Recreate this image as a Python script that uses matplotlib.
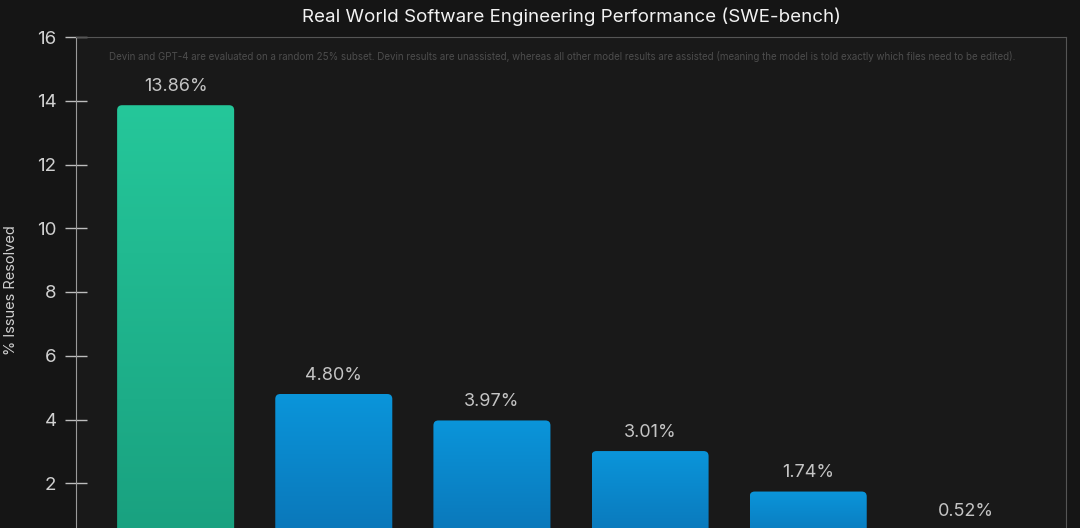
import numpy as np
import matplotlib
matplotlib.use('Agg')
import matplotlib.pyplot as plt
from matplotlib.patches import FancyBboxPatch
from matplotlib.colors import LinearSegmentedColormap

# Data (x labels are cut off at the bottom of the picture)
models = ['Devin', 'Claude 2', 'SWE-Llama 13b', 'SWE-Llama 7b', 'GPT-4', 'ChatGPT-3.5']
resolved = [13.86, 4.80, 3.97, 3.01, 1.74, 0.52]
yticks = [2, 4, 6, 8, 10, 12, 14, 16]

title = 'Real World Software Engineering Performance (SWE-bench)'
note = ('Devin and GPT-4 are evaluated on a random 25% subset. Devin results are unassisted, '
        'whereas all other model results are assisted (meaning the model is told exactly which '
        'files need to be edited).')

plt.rcParams['font.family'] = ['Inter', 'DejaVu Sans']

BG = '#151515'
fig = plt.figure(figsize=(10.8, 5.28), dpi=100, facecolor=BG)
# axes bottom sits below the figure edge, like in the cropped screenshot
ax = fig.add_axes([76/1080, -19/528, 990/1080, 510/528])
ax.set_facecolor('#191919')

x = np.arange(len(models))
bars = ax.bar(x, resolved, width=0.74, color='none', edgecolor='none')

green = LinearSegmentedColormap.from_list('g', ['#19a07f', '#25c79a'])
blue = LinearSegmentedColormap.from_list('b', ['#0a74b6', '#0b95da'])
grad = np.linspace(0, 1, 256).reshape(-1, 1)

# rounded bars with a vertical gradient, built on the bar geometry
px_x = 990 / 6.26
px_y = 510 / 16
for i, b in enumerate(bars):
    bx, by = b.get_x(), b.get_y()
    bw, bh = b.get_width(), b.get_height()
    patch = FancyBboxPatch((bx, by), bw, bh,
                           boxstyle='round,pad=0,rounding_size=%f' % (5 / px_x),
                           mutation_aspect=px_x / px_y,
                           facecolor='none', edgecolor='none')
    ax.add_patch(patch)
    cmap = green if i == 0 else blue
    im = ax.imshow(grad, cmap=cmap, origin='lower', aspect='auto',
                   extent=[bx, bx + bw, by, by + bh], zorder=2)
    im.set_clip_path(patch)
    ax.text(x[i], resolved[i] + 0.32, f'{resolved[i]:.2f}%', ha='center', va='bottom',
            color='#c4c4c4', fontsize=13)
ax.set_xlim(-0.63, 5.63)
ax.set_ylim(0, 16)

ax.set_xticks([])
ax.set_yticks(yticks)
ax.tick_params(axis='y', direction='inout', length=16, width=1, color='#bdbdbd',
               labelcolor='#d0d0d0', labelsize=13.5, pad=6)

ax.spines['left'].set_color('#9a9a9a')
for s in ['top', 'right']:
    ax.spines[s].set_color('#555555')
ax.spines['bottom'].set_visible(False)

fig.text(11/1080, 1 - 290/528, '% Issues Resolved', rotation=90, ha='center', va='center',
         color='#d0d0d0', fontsize=10.5)
fig.text(571/1080, 1 - 17/528, title, ha='center', va='center', color='#f2f2f2', fontsize=13.5)
fig.text(109/1080, 1 - 56/528, note, ha='left', va='center', color='#4d4d4d', fontsize=7.0)

fig.savefig('out.png', dpi=100, facecolor=BG)
